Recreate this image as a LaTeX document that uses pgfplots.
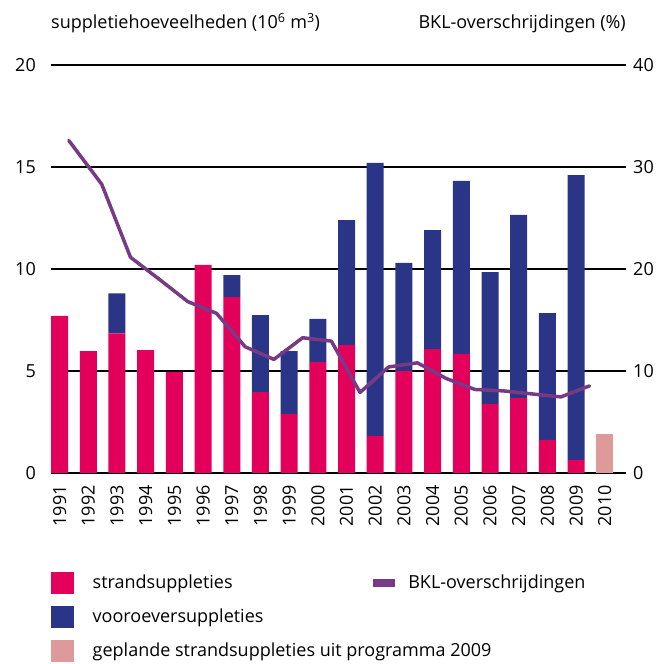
\documentclass[border=0pt]{standalone}
\usepackage{pgfplots}
\pgfplotsset{compat=1.18}
\usepackage{fontspec}
\setmainfont{Open Sans}
\definecolor{strand}{HTML}{E3005B}
\definecolor{voor}{HTML}{2A3587}
\definecolor{gepl}{HTML}{DE9A9A}
\definecolor{bkl}{HTML}{763B84}
\newcommand{\chartfont}{\fontsize{18bp}{22bp}\selectfont}
\pgfplotsset{
  sq legend/.style={legend image code/.code={%
      \fill[##1, draw=none] (0bp,-5.8bp) rectangle (23bp,16.6bp);
      \path[draw=none, fill=none] (0bp,0bp) -- (41.7bp,0bp);}},
  ln legend/.style={legend image code/.code={%
      \draw[##1] (0bp,5.4bp) -- (22bp,5.4bp);
      \path[draw=none, fill=none] (0bp,0bp) -- (35.3bp,0bp);}},
  base/.style={
    at={(51bp,191bp)}, anchor=south west,
    scale only axis, width=575bp, height=408bp,
    xmin=-0.3, xmax=19.74,
    axis line style={draw=none},
    major tick length=0pt,
    font=\chartfont,
    /pgf/number format/assume math mode=true,
    ticklabel style={font=\chartfont, inner sep=0pt},
  },
}
\begin{document}
\chartfont
\begin{tikzpicture}
\useasboundingbox (0bp,0bp) rectangle (671bp,664bp);
\begin{axis}[base,
  clip=false,
  ymin=0, ymax=20, ytick={0,5,10,15,20},
  ymajorgrids, grid style={black, line width=1.3bp},
  yticklabel shift=15bp,
  xtick={0,...,19},
  xticklabels={1991,1992,1993,1994,1995,1996,1997,1998,1999,2000,2001,2002,2003,2004,2005,2006,2007,2008,2009,2010},
  xticklabel style={rotate=90, anchor=east},
  xticklabel shift=12bp,
  ybar stacked, bar width=17bp,
]
\addplot[fill=strand, draw=none] coordinates {
(0,7.7) (1,5.97) (2,6.85) (3,6.02) (4,4.95) (5,10.2) (6,8.62) (7,3.96) (8,2.88) (9,5.45)
(10,6.27) (11,1.82) (12,5.0) (13,6.07) (14,5.84) (15,3.39) (16,3.68) (17,1.62) (18,0.64) (19,0)};
\addplot[fill=voor, draw=none] coordinates {
(0,0) (1,0) (2,1.95) (3,0) (4,0) (5,0) (6,1.08) (7,3.78) (8,3.09) (9,2.1)
(10,6.13) (11,13.38) (12,5.3) (13,5.83) (14,8.48) (15,6.46) (16,8.97) (17,6.22) (18,13.96) (19,0)};
\addplot[fill=gepl, draw=none] coordinates {
(0,0) (1,0) (2,0) (3,0) (4,0) (5,0) (6,0) (7,0) (8,0) (9,0)
(10,0) (11,0) (12,0) (13,0) (14,0) (15,0) (16,0) (17,0) (18,0) (19,1.9)};
\node[anchor=base west, inner sep=0pt, yshift=36bp] at (rel axis cs:0,1)
  {suppletiehoeveelheden (10\textsuperscript{6} m\textsuperscript{3})};
\node[anchor=base east, inner sep=0pt, yshift=36bp] at (rel axis cs:1,1)
  {BKL-overschrijdingen (\%)};
\end{axis}
\begin{axis}[base,
  ymin=0, ymax=40, ytick={0,10,20,30,40},
  axis x line=none,
  yticklabel pos=right,
  yticklabel shift=7bp,
  legend columns=2,
  legend cell align=left,
  legend style={at={(rel axis cs:0,0)}, anchor=north west, yshift=-99bp,
    draw=none, fill=none, inner sep=0pt, outer sep=0pt, row sep=11.6bp,
    font=\chartfont, cells={anchor=base west}, nodes={inner sep=0pt}},
]
\addplot[bkl, line width=3.5bp, line join=round, line cap=round, forget plot] coordinates {
(0.32,32.6) (1.47,28.3) (2.47,21.15) (3.47,19.0) (4.47,16.8) (5.47,15.65) (6.47,12.37)
(7.47,11.14) (8.47,13.26) (9.47,12.93) (10.47,7.9) (11.47,10.4) (12.47,10.8)
(13.47,9.27) (14.47,8.19) (15.47,8.05) (16.47,7.75) (17.47,7.46) (18.47,8.54)};
\addlegendimage{sq legend, fill=strand}
\addlegendentry{\makebox[276.3bp][l]{strandsuppleties}}
\addlegendimage{ln legend, bkl, line width=8bp, line cap=butt}
\addlegendentry{BKL-overschrijdingen}
\addlegendimage{sq legend, fill=voor}
\addlegendentry{\makebox[276.3bp][l]{vooroeversuppleties}}
\addlegendimage{empty legend}
\addlegendentry{}
\addlegendimage{sq legend, fill=gepl}
\addlegendentry{\makebox[276.3bp][l]{geplande strandsuppleties uit programma 2009}}
\addlegendimage{empty legend}
\addlegendentry{}
\end{axis}
\end{tikzpicture}
\end{document}
